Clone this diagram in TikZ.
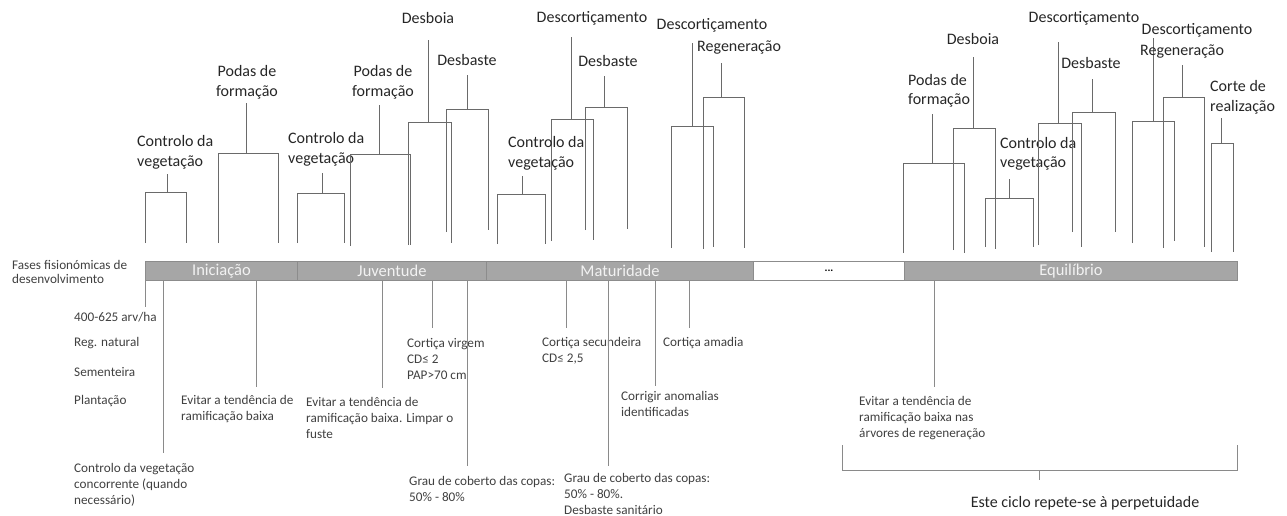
\documentclass[tikz,border=0pt]{standalone}
\usepackage{fontspec}
\setmainfont{Carlito}
\definecolor{barfill}{HTML}{A6A6A6}
\definecolor{barline}{HTML}{8C8C8C}
\definecolor{toplinec}{HTML}{6A6A6A}
\definecolor{botlinec}{HTML}{8A8A8A}
\definecolor{txt}{HTML}{262626}
\definecolor{notetxt}{HTML}{404040}
\begin{document}
\begin{tikzpicture}[x=1pt,y=-1pt,
  lbl/.style={font=\fontsize{16}{19.5}\selectfont, inner sep=0pt, align=center, text=txt},
  lblw/.style={lbl, anchor=west, align=left},
  note/.style={font=\fontsize{13.2}{16}\selectfont, inner sep=0pt, align=left, anchor=west, text=notetxt},
  topline/.style={draw=toplinec, line width=0.9pt},
  botline/.style={draw=botlinec, line width=0.9pt},
  phase/.style={fill=barfill, draw=barline, line width=1pt, minimum height=19pt, inner sep=0pt, anchor=north west, font=\fontsize{16.5}{18}\selectfont, text=white!95!black},
  blank/.style={phase, fill=white, text=black}
]
\useasboundingbox (0,0) rectangle (1287,515);

% ---------- bracket macro: name, stemx, stemtop, hy, xl, xr, yl, yr
\newcommand{\brk}[8]{%
  \coordinate (#1s) at (#2,#3);
  \coordinate (#1h) at (#2,#4);
  \coordinate (#1l) at (#5,#4);
  \coordinate (#1r) at (#6,#4);
  \coordinate (#1lb) at (#5,#7);
  \coordinate (#1rb) at (#6,#8);
  \draw[topline] (#1s) -- (#1h);
  \draw[topline] (#1lb) -- (#1l) -- (#1r) -- (#1rb);
}

% ---------- phase bar
\node[phase, minimum width=152pt] (ini) at (145,261) {Iniciação};
\node[phase, minimum width=189pt] (juv) at (297,261) {Juventude};
\node[phase, minimum width=267pt] (mat) at (486,261) {Maturidade};
\node[blank, minimum width=151pt, font=\fontsize{11}{12}\selectfont] (dots) at (753,261) {\textbf{...}};
\node[phase, minimum width=333pt] (equ) at (904,261) {Equilíbrio};

\node[note, font=\fontsize{13.2}{14.5}\selectfont] (fases) at (12,272) {Fases fisionómicas de\\desenvolvimento};

% ---------- top labels and brackets
% Iniciacao
\node[lblw] (t1) at (137,152.5) {Controlo da\\vegetação};
\brk{b1}{167}{174}{192}{145}{186}{243}{243}
\node[lbl] (t2) at (247,82.5) {Podas de\\formação};
\brk{b2}{246}{103}{153}{218}{278}{243}{243}
% Juventude
\node[lblw] (t3) at (288,149.5) {Controlo da\\vegetação};
\brk{b3}{322}{173}{193}{297}{344}{243}{243}
\node[lbl] (t4) at (383,82.5) {Podas de\\formação};
\brk{b4}{379}{105}{154}{350}{410}{246}{245}
\node[lbl] (t5) at (428,18) {Desboia};
\brk{b5}{428}{40}{122}{408}{451}{245}{243}
\node[lbl] (t6) at (467,60) {Desbaste};
\brk{b6}{467}{75}{109}{446}{488}{232}{230}
% Maturidade
\node[lbl] (t7) at (592,18) {Descortiçamento};
\brk{b7}{571}{37}{119}{551}{593}{241}{240}
\node[lbl] (t8) at (608,61) {Desbaste};
\brk{b8}{604}{76}{107}{585}{627}{230}{229}
\node[lblw] (t9) at (508,153.5) {Controlo da\\vegetação};
\brk{b9}{522}{176}{194}{497}{545}{244}{244}
\node[lbl] (t10) at (712,25) {Descortiçamento};
\brk{b10}{692}{43}{126}{671}{713}{248}{247}
\node[lblw] (t11) at (697,48) {Regeneração};
\brk{b11}{721}{63}{97}{703}{744}{249}{248}
% Equilibrio
\node[lblw] (t12) at (908,91) {Podas de\\formação};
\brk{b12}{932}{114}{163}{903}{964}{253}{253}
\node[lbl] (t13) at (973,39) {Desboia};
\brk{b13}{973}{57}{128}{953}{995}{250}{249}
\node[lblw] (t14) at (1000,154) {Controlo da\\vegetação};
\brk{b14}{1009}{179}{198}{985}{1033}{247}{247}
\node[lbl] (t15) at (1084,18) {Descortiçamento};
\brk{b15}{1058}{42}{123}{1038}{1081}{245}{247}
\node[lbl] (t16) at (1091,63) {Desbaste};
\brk{b16}{1092}{79}{112}{1072}{1115}{232}{232}
\node[lbl] (t17) at (1197,30) {Descortiçamento};
\brk{b17}{1153}{38}{121}{1132}{1174}{243}{241}
\node[lblw] (t18) at (1140,52) {Regeneração};
\brk{b18}{1182}{65}{97}{1163}{1204}{248}{247}
\node[lblw] (t19) at (1210,97.5) {Corte de\\realização};
\brk{b19}{1221}{118}{143}{1211}{1233}{252}{252}

% ---------- bottom notes
\node[note] (n1) at (74,317) {400-625 arv/ha};
\node[note] (n2) at (74,343) {Reg. natural};
\node[note] (n3) at (74,372) {Sementeira};
\node[note] (n4) at (74,401) {Plantação};
\draw[botline] (ini.south west) -- ++(0,26);

\node[note] (n5) at (74,485) {Controlo da vegetação\\concorrente (quando\\necessário)};
\draw[botline] (ini.south -| 163,0) -- (163,453);

\node[note] (n6) at (181,409) {Evitar a tendência de\\ramificação baixa};
\draw[botline] (ini.south -| 256,0) -- (256,387);

\node[note] (n7) at (306,417.5) {Evitar a tendência de\\ramificação baixa. Limpar o\\fuste};
\draw[botline] (juv.south -| 382,0) -- (382,388);

\node[note] (n8) at (407,359) {Cortiça virgem\\CD≤ 2\\PAP>70 cm};
\draw[botline] (juv.south -| 432,0) -- (432,328);

\node[note] (n9) at (409,489) {Grau de coberto das copas:\\50\% - 80\%};
\draw[botline] (juv.south -| 467,0) -- (467,466);

\node[note] (n10) at (542,351) {Cortiça secundeira\\CD≤ 2,5};
\draw[botline] (mat.south -| 566,0) -- (566,328);

\node[note] (n11) at (564,494) {Grau de coberto das copas:\\50\% - 80\%.\\Desbaste sanitário};
\draw[botline] (mat.south -| 608,0) -- (608,466);

\node[note] (n12) at (621,404) {Corrigir anomalias\\identificadas};
\draw[botline] (mat.south -| 655,0) -- (655,386);

\node[note] (n13) at (663,343) {Cortiça amadia};
\draw[botline] (mat.south -| 689,0) -- (689,328);

\node[note] (n14) at (859,418) {Evitar a tendência de\\ramificação baixa nas\\árvores de regeneração};
\draw[botline] (equ.south -| 934,0) -- (934,387);

% ---------- cycle bracket
\coordinate (cl) at (842,445);
\coordinate (cr) at (1237,445);
\coordinate (cm) at (1039,480);
\draw[botline] (cl) -- (842,470) -- (1237,470) -- (cr);
\draw[botline] (1039,470) -- (cm);
\node[lbl, font=\fontsize{16}{19}\selectfont] (cyc) at (1085,503) {Este ciclo repete-se à perpetuidade};
\end{tikzpicture}
\end{document}
